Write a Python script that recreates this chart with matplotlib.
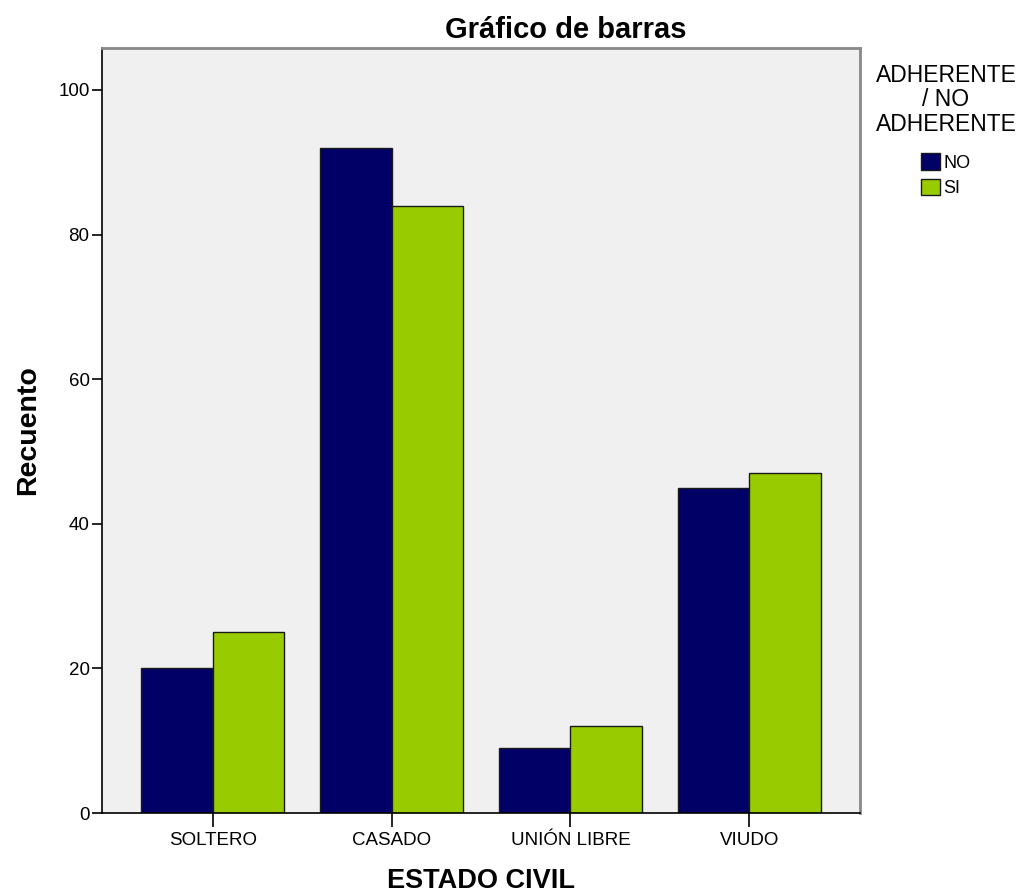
import matplotlib.pyplot as plt
import numpy as np

plt.rcParams['font.family'] = ['Liberation Sans', 'DejaVu Sans']

categorias = ['SOLTERO', 'CASADO', 'UNIÓN LIBRE', 'VIUDO']
no_adherente = [20, 92, 9, 45]
si_adherente = [25, 84, 12, 47]
grupos = ['NO', 'SI']
colores = ['#000066', '#99CC00']

fig = plt.figure(figsize=(10.24, 8.94), dpi=100)
ax = fig.add_axes([102/1024, 81/894, 758/1024, 765/894])
ax.set_facecolor('#F0F0F0')

x = np.arange(len(categorias))
w = 0.4
ax.bar(x - w/2, no_adherente, w, color=colores[0], edgecolor='#1a1a1a', linewidth=1, label=grupos[0])
ax.bar(x + w/2, si_adherente, w, color=colores[1], edgecolor='#1a1a1a', linewidth=1, label=grupos[1])

ax.set_xlim(-0.62, 3.62)
ax.set_ylim(0, 105.8)
ax.set_xticks(x)
ax.set_xticklabels(categorias, fontsize=13.5)
ax.set_yticks([0, 20, 40, 60, 80, 100])
ax.tick_params(axis='y', labelsize=13.5, length=7, width=1.2, pad=2)
ax.tick_params(axis='x', length=10, width=1.2, pad=4)

for s in ['left', 'bottom']:
    ax.spines[s].set_color('black')
    ax.spines[s].set_linewidth(1.2)
for s in ['top', 'right']:
    ax.spines[s].set_color('#888888')
    ax.spines[s].set_linewidth(2)

# titulo centrado sobre todo el grafico (incluida la leyenda)
fig.text(566/1024, 1 - 30/894, 'Gráfico de barras', fontsize=21,
         fontweight='bold', ha='center', va='center')
ax.set_xlabel('ESTADO CIVIL', fontsize=19.5, fontweight='bold', labelpad=13)
ax.set_ylabel('Recuento', fontsize=20.5, fontweight='bold', labelpad=12)

fig.text(946/1024, 1 - 100/894, 'ADHERENTE\n/ NO\nADHERENTE', fontsize=16.5,
         ha='center', va='center', linespacing=1.08)
leg = ax.legend(loc='upper left', bbox_to_anchor=(907/1024, 1 - 139/894),
                bbox_transform=fig.transFigure, frameon=False, fontsize=13,
                handlelength=1.05, handleheight=1.0, handletextpad=0.15,
                labelspacing=0.4, borderpad=0.3)

fig.savefig('out.png', dpi=100)
